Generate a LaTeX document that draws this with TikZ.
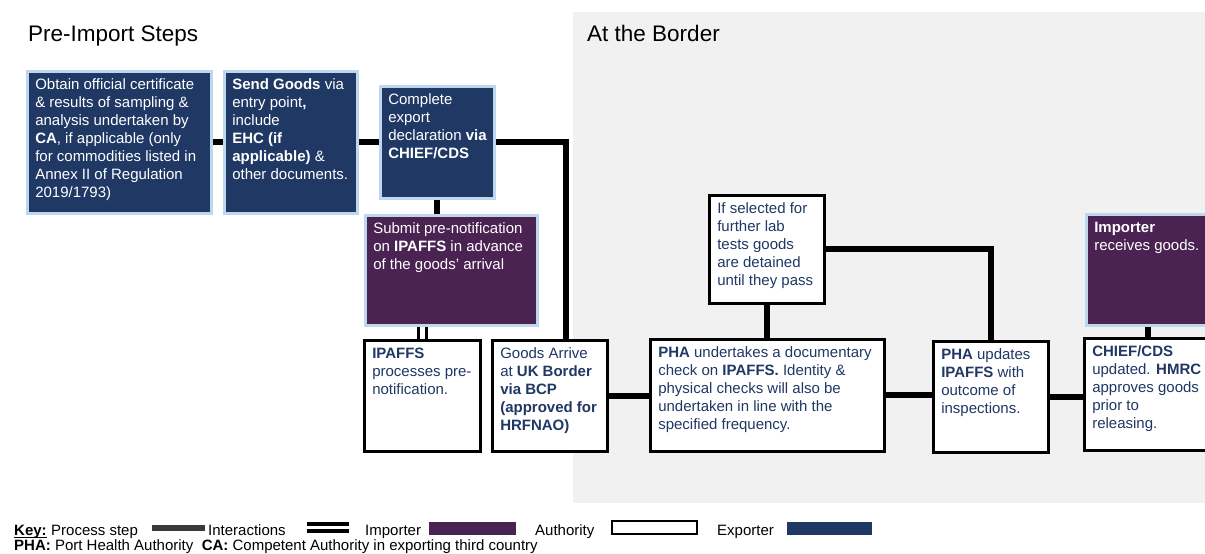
\documentclass[tikz,border=0pt]{standalone}
\usepackage{fontspec}
\setmainfont{Liberation Sans}
\usetikzlibrary{positioning}
\definecolor{exporter}{RGB}{32,56,100}
\definecolor{importer}{RGB}{74,35,82}
\definecolor{edgeblue}{RGB}{189,215,238}
\definecolor{zone}{RGB}{241,241,241}
\definecolor{keybar}{RGB}{58,58,58}
\newcommand{\steptext}[3]{\parbox[t][#2][t]{#1}{\raggedright\strut#3}}
\begin{document}
\begin{tikzpicture}[x=1pt,y=-1pt,font=\fontsize{15}{18}\selectfont,
	stepbox/.style={rectangle,anchor=north west,inner xsep=8pt,inner ysep=6pt},
	export/.style={stepbox,fill=exporter,draw=edgeblue,line width=2.5pt,text=white},
	import/.style={stepbox,fill=importer,draw=edgeblue,line width=2.5pt,text=white},
	authority/.style={stepbox,fill=white,draw=black,line width=2.5pt,text=exporter},
	flow/.style={line width=6pt},
	interact/.style={line width=3pt,double=white,double distance=5pt},
	title/.style={anchor=base west,inner sep=0pt,font=\fontsize{22.5}{26}\selectfont},
	key/.style={anchor=base west,inner sep=0pt}]
	\useasboundingbox (0,0) rectangle (1205,554);
	\clip (0,0) rectangle (1205,554);
	\fill [zone] (573,12) rectangle (1210,503);
	\node [title] (preimport) at (28,41) {Pre-Import Steps};
	\node [title] (atborder) at (587,41) {At the Border};
	\node [export] (obtain) at (26,70) {\steptext{168pt}{130pt}{Obtain official certificate\\
		\& results of sampling \&\\ analysis undertaken by\\ \textbf{CA}, if applicable (only\\
		for commodities listed in\\ Annex II of Regulation\\ 2019/1793)}};
	\node [export] (send) at (223,70) {\steptext{117pt}{130pt}{\textbf{Send Goods} via\\
		entry point\textbf{,}\\ include\\ \textbf{EHC (if}\\ \textbf{applicable)} \&\\ other documents.}};
	\node [export] (declare) at (379,85) {\steptext{98pt}{100pt}{Complete\\ export\\
		\mbox{declaration \textbf{via}}\\ \textbf{CHIEF/CDS}}};
	\node [import] (prenote) at (364,214) {\steptext{156pt}{98pt}{Submit pre-notification\\
		on \textbf{IPAFFS} in advance\\ of the goods' arrival}};
	\node [authority] (ipaffs) at (363,339) {\steptext{100pt}{99pt}{\textbf{IPAFFS}\\
		processes pre-\\ notification.}};
	\node [authority] (arrive) at (491,339) {\steptext{99pt}{99pt}{Goods Arrive\\
		at \textbf{UK Border}\\ \textbf{via BCP}\\ \textbf{(approved for}\\ \textbf{HRFNAO)}}};
	\node [authority] (check) at (649,338) {\steptext{218pt}{100pt}{\textbf{PHA} undertakes a documentary\\
		check on \textbf{IPAFFS.} Identity \&\\ physical checks will also be\\
		undertaken in line with the\\ specified frequency.}};
	\node [authority] (labtest) at (708,194) {\steptext{99pt}{96pt}{If selected for\\
		further lab\\ tests goods\\ are detained\\ until they pass}};
	\node [authority] (update) at (932,340) {\steptext{99pt}{99pt}{\textbf{PHA} updates\\
		\textbf{IPAFFS} with\\ outcome of\\ inspections.}};
	\node [authority] (release) at (1083,337) {\steptext{112pt}{100pt}{\textbf{CHIEF/CDS}\\
		updated. \textbf{HMRC}\\ approves goods\\ prior to\\ releasing.}};
	\node [import] (receive) at (1085,213) {\steptext{108pt}{99pt}{\textbf{Importer}\\
		receives goods.}};
	\draw [flow] (obtain.east) -- (send.west);
	\draw [flow] (send.east) -- (send.east -| declare.west);
	\draw [flow] (declare.east) -| ([xshift=16pt]arrive.north);
	\draw [flow] (declare.south) -- (declare.south |- prenote.north);
	\draw [interact] (ipaffs.north) -- (ipaffs.north |- prenote.south);
	\draw [flow] (arrive.east) -- (arrive.east -| check.west);
	\draw [flow] (check.north) -- (check.north |- labtest.south);
	\draw [flow] (labtest.east) -| (update.north);
	\draw [flow] (check.east) -- (check.east -| update.west);
	\draw [flow] (update.east) -- (update.east -| release.west);
	\draw [flow] (receive.south) -- (receive.south |- release.north);
	\node [key,font=\fontsize{15}{18}\selectfont\bfseries] (keyhead) at (14,535) {Key:};
	\draw [line width=1pt] ([yshift=-2pt]keyhead.base west) -- ([yshift=-2pt]keyhead.base east);
	\node [key] (keyprocess) at (51,535) {Process step};
	\fill [keybar] (152,525) rectangle (205,531);
	\node [key] (keyinteract) at (208,535) {Interactions};
	\fill (307,522) rectangle (349,525.5);
	\fill (307,529) rectangle (349,532.5);
	\node [key] (keyimporter) at (365,535) {Importer};
	\fill [importer] (429,522) rectangle (516,535);
	\node [key] (keyauthority) at (535,535) {Authority};
	\draw [line width=2pt] (612,521) rectangle (697,534);
	\node [key] (keyexporter) at (717,535) {Exporter};
	\fill [exporter] (787,522) rectangle (872,535);
	\node [key] (keyabbrev) at (14,550) {\textbf{PHA:} Port Health Authority\ \ \textbf{CA:} Competent Authority in exporting third country};
\end{tikzpicture}
\end{document}
